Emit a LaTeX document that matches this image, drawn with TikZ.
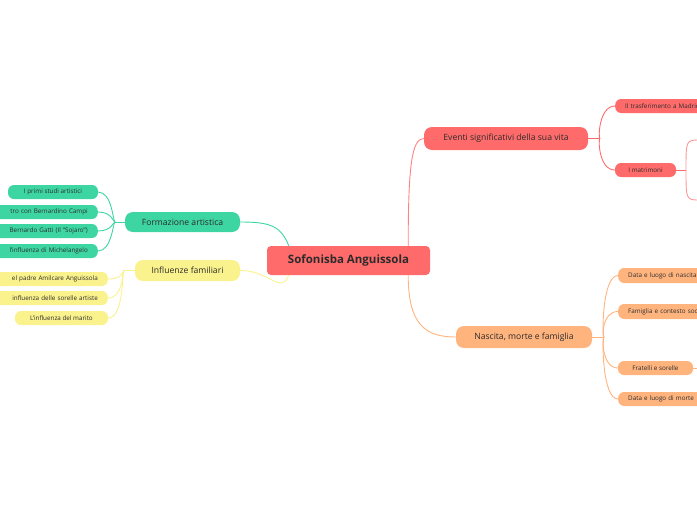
\documentclass[tikz,border=0pt]{standalone}
\usepackage{fontspec}
\setmainfont{Open Sans}
\definecolor{cred}{HTML}{FF6B6B}
\definecolor{cgreen}{HTML}{3DD6A3}
\definecolor{cyel}{HTML}{FAF28C}
\definecolor{corg}{HTML}{FFB47E}
\definecolor{txt}{HTML}{2B2B2B}
\begin{document}
\begin{tikzpicture}[x=1pt,y=-1pt,
  box/.style={fill=#1,draw=none,rounded corners=6pt,inner sep=0pt,text=txt,font=\fontsize{6.3}{7}\selectfont},
  mid/.style={box=#1,rounded corners=8pt,font=\fontsize{8.6}{10}\selectfont},
  lnk/.style={draw=#1,line width=0.9pt}]
\useasboundingbox (0,0) rectangle (697,520);
\clip (0,0) rectangle (697,520);
% central
\node[box=cred,rounded corners=4pt,minimum width=163pt,minimum height=29pt,font=\fontsize{11.5}{13}\selectfont\bfseries] (c) at (348.5,260.5) {Sofonisba Anguissola};
% mid level
\node[mid=cgreen,minimum width=115pt,minimum height=20pt] (f) at (182.5,222) {Formazione artistica};
\node[mid=cyel,minimum width=105pt,minimum height=21pt] (i) at (187.5,270.5) {Influenze familiari};
\node[mid=cred,minimum width=164pt,minimum height=23pt] (e) at (506,138.5) {Eventi significativi della sua vita};
\node[mid=corg,minimum width=136pt,minimum height=22pt] (n) at (524,337) {Nascita, morte e famiglia};
% green children
\node[box=cgreen,minimum width=90pt,minimum height=14pt] (g1) at (53,192) {I primi studi artistici};
\node[box=cgreen,anchor=east,minimum height=14pt,text width=180pt,align=right] (g2) at (98,212) {tro con Bernardino Campi\hspace*{10pt}};
\node[box=cgreen,anchor=east,minimum height=14pt,text width=180pt,align=right] (g3) at (98,231) {Bernardo Gatti (Il "Sojaro")\hspace*{10pt}};
\node[box=cgreen,anchor=east,minimum height=14pt,text width=180pt,align=right] (g4) at (98,251) {l'influenza di Michelangelo\hspace*{10pt}};
% yellow children
\node[box=cyel,anchor=east,minimum height=14pt,text width=180pt,align=right] (y1) at (108,279) {el padre Amilcare Anguissola\hspace*{10pt}};
\node[box=cyel,anchor=east,minimum height=14pt,text width=180pt,align=right] (y2) at (108,298) {influenza delle sorelle artiste\hspace*{10pt}};
\node[box=cyel,minimum width=93pt,minimum height=14pt] (y3) at (61.5,318) {L'influenza del marito};
% red children
\node[box=cred,anchor=west,minimum height=14pt,text width=150pt,align=left] (r1) at (615,106) {\hspace*{10pt}Il trasferimento a Madrid};
\node[box=cred,minimum width=61pt,minimum height=14pt] (r2) at (645.5,170) {I matrimoni};
% orange children
\node[box=corg,anchor=west,minimum height=15pt,text width=150pt,align=left] (o1) at (618,275.5) {\hspace*{10pt}Data e luogo di nascita};
\node[box=corg,anchor=west,minimum height=15pt,text width=150pt,align=left] (o2) at (618,311.5) {\hspace*{10pt}Famiglia e contesto sociale};
\node[box=corg,minimum width=75pt,minimum height=14pt] (o3) at (655.5,368) {Fratelli e sorelle};
\node[box=corg,anchor=west,minimum height=14pt,text width=150pt,align=left] (o4) at (618,399) {\hspace*{10pt}Data e luogo di morte};
% central links
\draw[lnk=cgreen] ([xshift=22pt]c.north west) .. controls +(-8,-20) and +(30,0) .. (f.east);
\draw[lnk=cyel] ([xshift=22pt]c.south west) .. controls +(-8,20) and +(30,0) .. (i.east);
\draw[lnk=cred!85] ([xshift=-22pt]c.north east) .. controls +(0,-80) and +(-12,0) .. (e.west);
\draw[lnk=corg] ([xshift=-22pt]c.south east) .. controls +(0,50) and +(-30,0) .. (n.west);
% green links
\coordinate (fg) at (115,222);
\draw[lnk=cgreen] (f.west) -- (fg);
\foreach \k in {g1,g2,g3,g4}{\draw[lnk=cgreen] (fg) .. controls (113,222) and ([xshift=14pt]\k.east) .. (\k.east);}
% yellow links
\coordinate (iy) at (124,270.5);
\draw[lnk=cyel] (i.west) -- (iy);
\foreach \k in {y1,y2,y3}{\draw[lnk=cyel] (iy) .. controls (122,270.5) and ([xshift=16pt]\k.east) .. (\k.east);}
% red links
\coordinate (er) at (600,138.5);
\draw[lnk=cred] (e.east) -- (er);
\foreach \k in {r1,r2}{\draw[lnk=cred] (er) .. controls (598,138.5) and ([xshift=-16pt]\k.west) .. (\k.west);}
\coordinate (mr) at (686,170);
\coordinate (mu) at (700,140);
\coordinate (md) at (700,200);
\draw[lnk=cred] (r2.east) -- (mr);
\draw[lnk=cred!70] (mr) .. controls (686,140) .. (mu);
\draw[lnk=cred!70] (mr) .. controls (686,200) .. (md);
% orange links
\coordinate (no) at (604,337);
\draw[lnk=corg] (n.east) -- (no);
\foreach \k in {o1,o2,o3,o4}{\draw[lnk=corg] (no) .. controls (602,337) and ([xshift=-16pt]\k.west) .. (\k.west);}
\coordinate (fo) at (700,368);
\draw[lnk=corg] (o3.east) -- (fo);
\end{tikzpicture}
\end{document}
